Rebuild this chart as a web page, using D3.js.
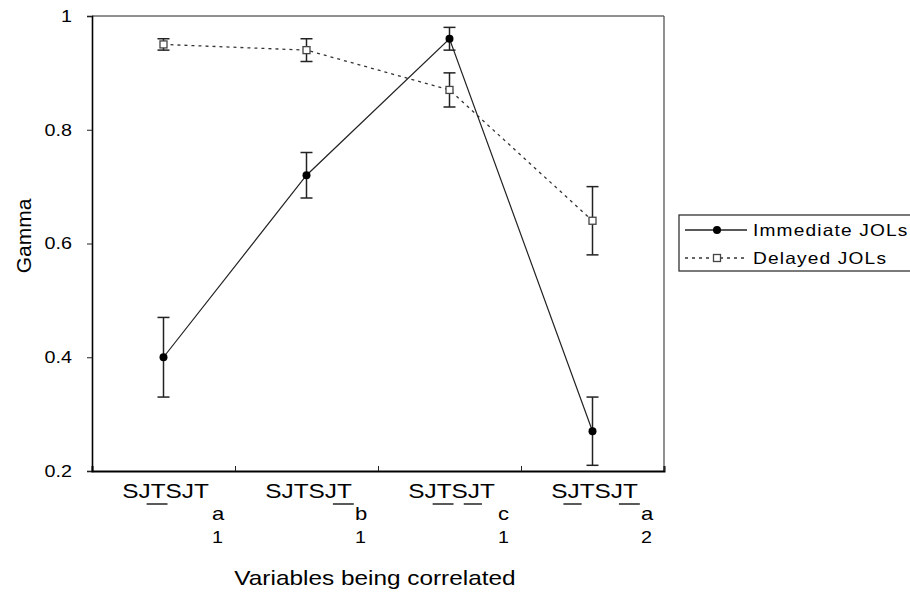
<!DOCTYPE html>
<html>
<head>
<meta charset="utf-8">
<script src="https://cdn.jsdelivr.net/npm/d3@7"></script>
<style>
  body { margin: 0; background: #fff; }
  text { font-family: "Liberation Sans", Arial, sans-serif; fill: #000; }
</style>
</head>
<body>
<div id="chart"></div>
<script>
// categories (x labels are drawn in pieces: main text, subscript letter, subscript number)
const catIds = ['c1', 'c2', 'c3', 'c4'];
const labelMain = ['SJTSJT', 'SJTSJT', 'SJTSJT', 'SJTSJT'];
const labelSub = ['a', 'b', 'c', 'a'];
const labelNum = ['1', '1', '1', '2'];
const labelUnder = [[2], [5], [2, 4], [1, 5]];   // underlined characters

// series
const immediate = [0.40, 0.72, 0.96, 0.27];
const immediateErr = [0.07, 0.04, 0.02, 0.06];
const delayed = [0.95, 0.94, 0.87, 0.64];
const delayedErr = [0.01, 0.02, 0.03, 0.06];

const yTicks = [0.2, 0.4, 0.6, 0.8, 1];
const seriesNames = ['Immediate JOLs', 'Delayed JOLs'];

const margin = {top: 16, left: 92};
const width = 572, height = 455;
const K = 1.16; // the original is a bit wider than its fonts

// make text a bit wider, like the reference
function stretch(sel, k) {
  sel.each(function() {
    const w = this.getComputedTextLength();
    d3.select(this).attr('textLength', w * k).attr('lengthAdjust', 'spacingAndGlyphs');
  });
}

const svg = d3.select('#chart').append('svg')
  .attr('width', 910)
  .attr('height', 595);

const g = svg.append('g')
  .attr('transform', `translate(${margin.left},${margin.top})`);

const x = d3.scaleBand().domain(catIds).range([0, width]);
const xb = d3.scaleLinear().domain([0, catIds.length]).range([0, width]);
const y = d3.scaleLinear().domain([0.2, 1]).range([height, 0]);

// frame: top and right
g.append('line').attr('x1', 0).attr('x2', width).attr('y1', 0).attr('y2', 0)
  .attr('stroke', '#222').attr('stroke-width', 1);
g.append('line').attr('x1', width).attr('x2', width).attr('y1', 0).attr('y2', height)
  .attr('stroke', '#555').attr('stroke-width', 1.3);

// y axis
const yAxis = g.append('g')
  .call(d3.axisLeft(y).tickValues(yTicks).tickSize(5).tickPadding(15).tickFormat(d => String(d)));
yAxis.select('.domain').attr('stroke', '#000').attr('stroke-width', 1.6);
yAxis.selectAll('.tick line').attr('stroke', '#222');
yAxis.selectAll('text').attr('font-size', 17).attr('font-family', '"Liberation Sans", Arial, sans-serif');
stretch(yAxis.selectAll('text'), K);

// x axis (ticks at the borders between groups, pointing up)
const xAxis = g.append('g')
  .attr('transform', `translate(0,${height})`)
  .call(d3.axisBottom(xb).tickValues([1, 2, 3, 4]).tickSize(-5).tickFormat(''));
xAxis.select('.domain').attr('stroke', '#000').attr('stroke-width', 2);
xAxis.selectAll('.tick line').attr('stroke', '#222');

// x labels
const lab = g.append('g').selectAll('g')
  .data(catIds)
  .join('g')
  .attr('transform', d => `translate(${x(d) + x.bandwidth() / 2 + 2},${height})`);

lab.each(function(d, i) {
  const gl = d3.select(this);
  const t = gl.append('text')
    .attr('y', 27)
    .attr('text-anchor', 'middle')
    .attr('font-size', 21)
    .text(labelMain[i]);
  stretch(t, K);
  const node = t.node();
  const bb = node.getBBox();
  labelUnder[i].forEach(ci => {
    const ex = node.getExtentOfChar(ci);
    gl.append('line')
      .attr('x1', ex.x - 4).attr('x2', ex.x + ex.width + 2)
      .attr('y1', 33).attr('y2', 33)
      .attr('stroke', '#000').attr('stroke-width', 1.3);
  });
  const sx = bb.x + bb.width + 3;
  const s1 = gl.append('text').attr('x', sx).attr('y', 49).attr('font-size', 19).text(labelSub[i]);
  stretch(s1, K);
  const s2 = gl.append('text').attr('x', sx).attr('y', 72).attr('font-size', 17).text(labelNum[i]);
  stretch(s2, K);
});

// axis titles
const xt = svg.append('text')
  .attr('x', margin.left + width / 2 - 3)
  .attr('y', 585)
  .attr('text-anchor', 'middle')
  .attr('font-size', 21)
  .text('Variables being correlated');
stretch(xt, K);

svg.append('text')
  .attr('transform', 'translate(31,236) rotate(-90)')
  .attr('text-anchor', 'middle')
  .attr('font-size', 21)
  .text('Gamma');

// series drawing
const cx = i => x(catIds[i]) + x.bandwidth() / 2;
const line = d3.line().x((d, i) => cx(i)).y(d => y(d));

function errorBars(vals, errs) {
  const eb = g.append('g');
  vals.forEach((v, i) => {
    eb.append('line').attr('x1', cx(i)).attr('x2', cx(i))
      .attr('y1', y(v - errs[i])).attr('y2', y(v + errs[i]))
      .attr('stroke', '#222').attr('stroke-width', 1.5);
    [v - errs[i], v + errs[i]].forEach(e => {
      eb.append('line').attr('x1', cx(i) - 6).attr('x2', cx(i) + 6)
        .attr('y1', y(e)).attr('y2', y(e))
        .attr('stroke', '#222').attr('stroke-width', 1.5);
    });
  });
}

// delayed
errorBars(delayed, delayedErr);
g.append('path')
  .datum(delayed)
  .attr('d', line)
  .attr('fill', 'none')
  .attr('stroke', '#333')
  .attr('stroke-width', 1.3)
  .attr('stroke-dasharray', '3,4');
g.append('g').selectAll('rect')
  .data(delayed)
  .join('rect')
  .attr('x', (d, i) => cx(i) - 3.5)
  .attr('y', d => y(d) - 3.5)
  .attr('width', 7).attr('height', 7)
  .attr('fill', '#fff').attr('stroke', '#444').attr('stroke-width', 1.3);

// immediate
errorBars(immediate, immediateErr);
g.append('path')
  .datum(immediate)
  .attr('d', line)
  .attr('fill', 'none')
  .attr('stroke', '#222')
  .attr('stroke-width', 1.2);
g.append('g').selectAll('circle')
  .data(immediate)
  .join('circle')
  .attr('cx', (d, i) => cx(i))
  .attr('cy', d => y(d))
  .attr('r', 4)
  .attr('fill', '#000');

// legend
const lg = svg.append('g').attr('transform', 'translate(679,215)');
lg.append('rect')
  .attr('x', 0).attr('y', 0).attr('width', 240).attr('height', 56)
  .attr('fill', '#fff').attr('stroke', '#222').attr('stroke-width', 1.2);

const rows = lg.selectAll('.row')
  .data(seriesNames)
  .join('g')
  .attr('class', 'row')
  .attr('transform', (d, i) => `translate(0,${15 + i * 28})`);

rows.append('line')
  .attr('x1', 6).attr('x2', 68).attr('y1', 0).attr('y2', 0)
  .attr('stroke', (d, i) => i ? '#333' : '#222')
  .attr('stroke-width', 1.3)
  .attr('stroke-dasharray', (d, i) => i ? '3,4' : null);

rows.filter((d, i) => i === 0).append('circle')
  .attr('cx', 38).attr('cy', 0).attr('r', 4).attr('fill', '#000');
rows.filter((d, i) => i === 1).append('rect')
  .attr('x', 34.5).attr('y', -3.5).attr('width', 7).attr('height', 7)
  .attr('fill', '#fff').attr('stroke', '#444').attr('stroke-width', 1.3);

const lt = rows.append('text')
  .attr('x', 74).attr('y', 6)
  .attr('font-size', 16.5)
  .attr('letter-spacing', 1)
  .text(d => d);
stretch(lt, K);
</script>
</body>
</html>
